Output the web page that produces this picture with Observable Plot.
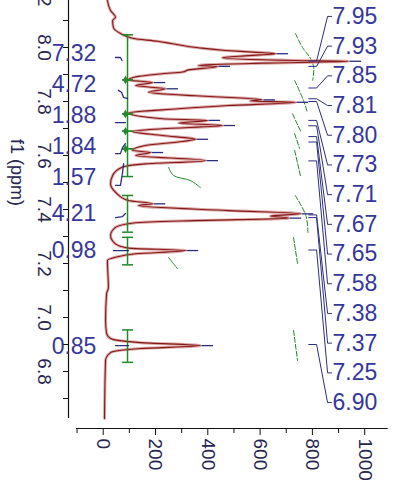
<!DOCTYPE html>
<html><head><meta charset="utf-8">
<script src="https://cdn.jsdelivr.net/npm/d3@7"></script>
<script src="https://cdn.jsdelivr.net/npm/@observablehq/plot@0.6"></script>
<style>html,body{margin:0;padding:0;background:#fff}svg{display:block}</style>
</head><body><div id="chart"></div>
<script>
// ---- spectrum trace (ppm, intensity) ----
const specPpm = [8.174,8.137,8.112,8.100,8.074,8.052,8.033,8.023,8.014,7.999,7.989,7.983,7.977,7.970,7.962,7.952,7.949,7.942,7.937,7.933,7.930,7.917,7.909,7.903,7.893,7.880,7.870,7.859,7.847,7.834,7.821,7.814,7.806,7.802,7.797,7.785,7.773,7.757,7.736,7.730,7.720,7.711,7.699,7.689,7.674,7.660,7.652,7.637,7.619,7.611,7.600,7.581,7.569,7.557,7.526,7.495,7.464,7.433,7.421,7.415,7.396,7.384,7.376,7.368,7.359,7.351,7.334,7.304,7.273,7.257,7.248,7.236,7.223,7.211,7.111,7.089,6.989,6.941,6.922,6.907,6.896,6.885,6.870,6.841,6.626];
const specInt = [16,28,47,36,39,66,116,208,265,364,468,571,659,556,456,735,938,609,418,364,437,326,303,227,135,97,189,124,238,173,353,506,609,563,735,479,288,97,227,399,288,456,227,112,227,353,303,162,112,181,124,391,162,74,36,28,47,97,189,135,479,755,640,709,353,124,47,28,47,97,315,124,47,16,20,13,9,13,28,143,372,143,28,9,5];

// ---- picked peak tips ----
const peakPpm = [7.977,7.949,7.930,7.870,7.847,7.806,7.797,7.730,7.711,7.660,7.611,7.581,7.421,7.384,7.368,7.248,6.896];
const peakInt = [659,938,437,189,238,609,735,399,456,353,181,391,189,755,709,315,372];

// ---- peak labels ----
const labelPpm = [7.95,7.93,7.85,7.81,7.80,7.73,7.71,7.67,7.65,7.58,7.38,7.37,7.25,6.90];

// ---- integrals ----
const intStart = [8.047,7.880,7.754,7.690,7.625,7.452,7.297,6.954];
const intEnd   = [7.880,7.754,7.690,7.625,7.522,7.316,7.195,6.834];
const intValue = ["7.32","4.72","1.88","1.84","1.57","4.21","0.98","0.85"];

// integral curves (green), traced: [intensity, ppm] pairs
const intCurvesRight = [
  [[735,8.052],[762,8.000],[793,7.959],[805,7.926],[801,7.878]],
  [[732,7.878],[766,7.804],[781,7.759]],
  [[724,7.754],[755,7.690]],
  [[732,7.681],[751,7.626]],
  [[732,7.619],[755,7.522]],
  [[734,7.452],[775,7.378],[783,7.315]],
  [[728,7.296],[743,7.200]],
  [[728,6.952],[743,6.841]]
];
const intCurvesMid = [
  [[250,7.556],[269,7.526],[334,7.507],[372,7.481]],
  [[250,7.222],[265,7.204],[284,7.181]]
];
// small navy integral traces near the brackets
const navyTraces = [
  [[47,7.963],[66,7.963],[72,7.952]],
  [[58,7.841],[70,7.834],[78,7.815],[93,7.811]],
  [[47,7.722],[85,7.722]],
  [[47,7.607],[66,7.607],[74,7.630],[85,7.644]],
  [[47,7.489],[66,7.489],[74,7.537],[78,7.570]],
  [[47,7.370],[74,7.374],[85,7.385]],
  [[39,7.248],[97,7.248]],
  [[47,6.896],[97,6.896]]
];

// ---- axis ticks ----
const yMajor = [8.2,8.0,7.8,7.6,7.4,7.2,7.0,6.8];
const yMinor = [8.1,7.9,7.7,7.5,7.3,7.1,6.9,6.7];
const xMajor = [0,200,400,600,800,1000];
const xMinor = [-100,100,300,500,700,900];

// ---- layout constants ----
const X0 = -132.7, X1 = 1125.4, Y0 = 6.589, Y1 = 8.174;
const BRACKET = 93, CAP0 = 74, CAP1 = 116;
const navy = "#2b2d80", txtBlue = "#35379a", green = "#23882a", red = "#861818";

const spec = specPpm.map((p,i)=>({ppm:p, v:specInt[i]}));
const peaks = peakPpm.map((p,i)=>({ppm:p, v:peakInt[i]}));

// evenly spread peak label positions
const lTop = 8.115, lBot = 6.685, n = labelPpm.length;
const labels = labelPpm.map((p,i)=>({ppm:p, ly: lTop - i*(lTop-lBot)/(n-1), text: p.toFixed(2)}));
const connectors = labels.flatMap((d,i)=>[
  {z:i, x:786, y:d.ppm},{z:i, x:816, y:d.ppm},{z:i, x:858, y:d.ly},{z:i, x:873, y:d.ly}
]);

// integral label positions (de-overlapped region centres)
const gap = 0.115;
let pos = intStart.map((s,i)=>(s+intEnd[i])/2);
for (let it=0; it<300; it++) {
  for (let i=1;i<pos.length;i++){
    const d = pos[i-1]-pos[i];
    if (d<gap){ const m=(gap-d)/2; pos[i-1]+=m; pos[i]-=m; }
  }
}
const regions = intStart.map((s,i)=>({s, e:intEnd[i], val:intValue[i], ly:pos[i]}));
const caps = regions.flatMap(r=>[r.s, r.e]);
const shared = intStart.filter(s=>intEnd.some(e=>Math.abs(e-s)<1e-9));

const toPts = (arr) => arr.flatMap((c,k)=>c.map(([x,y])=>({k,x,y})));

const plot = Plot.plot({
  width: 397, height: 483,
  marginLeft: 68, marginRight: 0, marginTop: 0, marginBottom: 55,
  x: {domain:[X0,X1], axis:null},
  y: {domain:[Y0,Y1], axis:null},
  style: {fontFamily:"'Liberation Sans', Arial, sans-serif", background:"#fff", overflow:"visible"},
  marks: [
    // axes
    Plot.ruleX([X0], {y1:6.626, y2:Y1, stroke:"#111", strokeWidth:1.2}),
    Plot.ruleY([Y0], {x1:-102, x2:1090, stroke:"#111", strokeWidth:1.2}),
    Plot.axisY(yMajor, {anchor:"left", tickSize:5, tickRotate:90, tickPadding:12, fontSize:19, fill:"#262650", stroke:"#111", tickFormat:d3.format(".1f"), label:null}),
    Plot.axisY(yMinor, {anchor:"left", tickSize:5, stroke:"#111", tickFormat:()=>"", label:null}),
    Plot.axisX(xMajor, {anchor:"bottom", tickSize:7, tickRotate:90, fontSize:19, fill:"#262650", stroke:"#111", tickFormat:d3.format("d"), label:null}),
    Plot.axisX(xMinor, {anchor:"bottom", tickSize:5, stroke:"#111", tickFormat:()=>"", label:null}),
    Plot.text(["f1 (ppm)"], {frameAnchor:"left", textAnchor:"middle", dx:-52, dy:-42, rotate:90, fontSize:18, fill:"#262650"}),

    // green integral curves
    Plot.line(toPts(intCurvesRight), {x:"x", y:"y", z:"k", stroke:green, strokeWidth:1, strokeDasharray:"5,2", curve:"catmull-rom"}),
    Plot.line(toPts(intCurvesMid), {x:"x", y:"y", z:"k", stroke:green, strokeWidth:1, curve:"catmull-rom"}),

    // spectrum
    Plot.line(spec, {x:"v", y:"ppm", stroke:"#dcaaaa", strokeWidth:3, curve:"monotone-y"}),
    Plot.line(spec, {x:"v", y:"ppm", stroke:red, strokeWidth:1.1, curve:"monotone-y"}),

    // integral brackets
    Plot.ruleX(regions, {x:()=>BRACKET, y1:"s", y2:"e", stroke:green, strokeWidth:1.5}),
    Plot.ruleY(caps, {y:d=>d, x1:CAP0, x2:CAP1, stroke:green, strokeWidth:1.5}),
    Plot.dot(shared, {x:()=>BRACKET-8, y:d=>d, symbol:"diamond", r:2.6, fill:green, stroke:"none"}),
    Plot.line(toPts(navyTraces), {x:"x", y:"y", z:"k", stroke:navy, strokeWidth:1.3}),
    Plot.text(regions, {x:()=>-26, y:"ly", text:"val", textAnchor:"end", fontSize:23, fill:txtBlue}),

    // peak markers
    Plot.ruleY(peaks, {y:"ppm", x1:d=>d.v+6, x2:d=>d.v+50, stroke:navy, strokeWidth:1.3}),

    // label connectors and labels
    Plot.line(connectors, {x:"x", y:"y", z:"z", stroke:navy, strokeWidth:1}),
    Plot.text(labels, {x:()=>877, y:"ly", text:"text", textAnchor:"start", fontSize:23, fill:txtBlue})
  ]
});
document.getElementById("chart").appendChild(plot);
</script>
</body></html>
